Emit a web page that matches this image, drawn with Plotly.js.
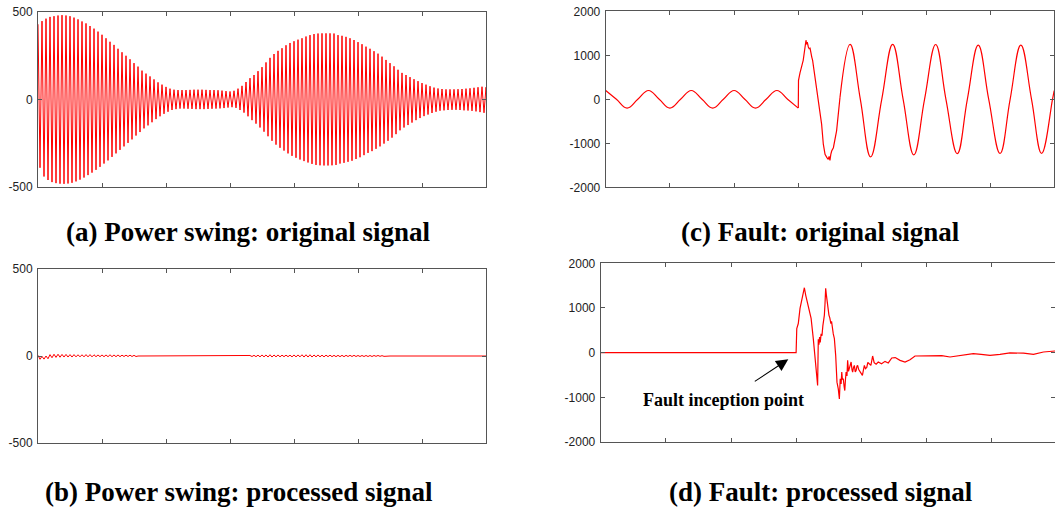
<!DOCTYPE html>
<html>
<head>
<meta charset="utf-8">
<script src="https://cdn.plot.ly/plotly-3.0.1.min.js"></script>
<style>
html,body{margin:0;padding:0;background:#fff;}
#chart{width:1055px;height:508px;}
</style>
</head>
<body>
<div id="chart"></div>
<script>
// ---------- DATA ----------
// (a) Power swing, original signal: positive and negative peak of each oscillation cycle
const swingUpperPeaks = [
  430,448,462,472,476,480,482,480,476,468,
  458,446,435,420,405,388,370,350,330,312,
  290,270,250,230,208,188,165,148,132,115,
  98,85,72,62,56,54,54,54,55,56,
  56,56,55,54,54,53,51,48,46,50,
  62,78,100,122,140,162,185,212,238,260,
  278,293,310,323,333,342,350,360,368,374,
  377,378,378,378,377,368,364,358,350,340,
  328,316,302,290,276,262,245,226,208,190,
  170,152,140,128,116,105,94,85,76,68,
  63,60,58,58,58,59,60,62,64,67,
  70,73,70
];
const swingLowerPeaks = [
  -390,-440,-460,-472,-478,-481,-482,-480,-476,-468,
  -458,-446,-432,-418,-402,-385,-366,-348,-328,-308,
  -288,-268,-248,-228,-206,-186,-165,-148,-130,-112,
  -96,-82,-70,-60,-55,-52,-52,-53,-54,-55,
  -55,-55,-54,-53,-52,-51,-49,-46,-44,-48,
  -60,-75,-96,-118,-138,-160,-184,-210,-236,-258,
  -276,-292,-308,-322,-333,-343,-352,-360,-368,-374,
  -376,-377,-377,-376,-374,-366,-362,-356,-350,-340,
  -330,-318,-305,-295,-282,-268,-252,-236,-218,-198,
  -176,-160,-146,-132,-118,-106,-95,-86,-77,-70,
  -64,-62,-60,-59,-59,-60,-62,-63,-65,-68,
  -72,-76,-80
];
// (b) Power swing, processed signal: peaks of each cycle (same time base)
const procUpperPeaks = [
  4,-2,0,8,10,10,9,9,8,8,
  7,7,8,8,7,6,6,6,7,6,
  6,5,5,5,4,
  0,0,0,0,0,0,0,0,0,0,0,0,0,0,0,0,0,0,0,0,0,0,0,0,0,0,0,0,
  3,4,5,6,6,7,6,6,5,5,
  5,6,6,7,7,7,6,6,5,5,
  5,4,4,4,4,4,4,3,3,3,
  3,3,3,2,
  0,0,0,0,0,0,0,0,0,0,0,0,0,0,0,0,0,0,0,0,0,0,0,0,0,0
];
const procLowerPeaks = [
  -19,-18,-16,-10,-8,-7,-6,-6,-6,-5,
  -5,-5,-5,-5,-4,-4,-4,-4,-4,-4,
  -4,-3,-3,-3,-3,
  0,0,0,0,0,0,0,0,0,0,0,0,0,0,0,0,0,0,0,0,0,0,0,0,0,0,0,0,
  -3,-4,-5,-5,-6,-6,-5,-5,-4,-4,
  -5,-5,-5,-6,-6,-6,-5,-5,-5,-4,
  -4,-4,-4,-4,-3,-3,-3,-3,-3,-3,
  -3,-2,-2,-2,
  0,0,0,0,0,0,0,0,0,0,0,0,0,0,0,0,0,0,0,0,0,0,0,0,0,0
];
const swingCyclesPerUnit = 16;

// (c) Fault, original signal (time in ms)
const preFaultT = [0,5,10,15,20,25,30,35,40,45,50,55,60,65,70,75,80,85,90];
const preFaultV = [200,0,-200,0,200,0,-200,0,200,0,-200,0,200,0,-200,0,200,0,-200];
const transientT = [90,90.1,90.8,91.6,92.0,92.3,92.7,93.1,93.6,93.9,94.2,94.7,95.1,95.5,95.9,96.3,96.7,97.8,99.3,100.9,101.7,102.5,103.3,104.0,104.4,104.8,105.2,105.6,106.4,107.9,109.5];
const transientV = [-200,430,600,810,830,885,1000,1114,1343,1250,1300,1190,1150,1160,1000,960,885,503,46,-565,-1020,-1250,-1320,-1364,-1300,-1390,-1250,-1175,-1100,-716,46];
const postFaultT = [109.5,114.2,119,123.8,129,134.1,139,144,149,154.2,159,164.3,169,174.1,179,184.3,189,194,199,203.7,208.8,209.6];
const postFaultV = [46,1250,0,-1310,0,1250,0,-1265,0,1245,0,-1235,0,1230,0,-1230,0,1230,0,-1230,0,200];

// (d) Fault, processed signal (time in ms)
const procFaultT = [0,89.9,90.2,90.9,91.7,92.5,93.2,93.7,94.3,95.2,95.8,96.8,97.8,98.6,99.4,99.8,
  100.1,100.4,100.7,101.0,101.4,101.8,102.2,102.6,102.9,103.2,103.5,103.8,104.0,104.3,104.5,104.8,105.0,105.4,105.9,106.2,106.6,107.0,107.5,108.1,108.7,109.3,109.8,110.2,110.6,110.9,111.2,111.6,112.0,112.3,112.6,112.9,113.3,113.6,114.0,114.4,114.8,115.2,115.6,115.9,116.3,116.7,117.1,117.5,117.9,118.2,118.7,119.3,119.8,120.4,120.9,121.3,121.8,122.4,122.9,123.4,124.3,125.1,125.8,126.7,127.7,129.2,130.8,132.3,133.9,135.5,137.7,140.0,142.3,144.6,147.7,150.7,153.8,156.9,160.7,165.3,171.4,175.0,179.1,183.7,188.3,194.5,199.1,203.7,209.0];
const procFaultV = [0,0,540,652,990,1177,1327,1453,1290,1102,990,765,315,-135,-510,-735,
  300,180,350,230,420,380,600,700,840,1100,1440,1300,1215,1150,990,1000,840,780,652,700,463,420,315,-60,-660,-810,-1035,-585,-700,-435,-600,-585,-760,-848,-600,-435,-520,-173,-420,-360,-300,-210,-380,-435,-330,-285,-430,-398,-300,-285,-380,-435,-460,-510,-380,-285,-360,-330,-220,-248,-285,-75,-225,-260,-210,-250,-195,-230,-120,-110,-173,-210,-160,-75,-75,-83,-75,-68,-97,-60,-22,-40,-60,-40,-7,-10,-37,15,37];

// ticks and labels
const swingXTicks = [1,2,3,4,5,6];
const faultXTicks = [30,60,90,120,150,180];
const swingYTicks = [-500,0,500];
const swingYLabels = ['-500','0','500'];
const faultYTicks = [-2000,-1000,0,1000,2000];
const faultYLabels = ['-2000','-1000','0','1000','2000'];
const captions = [
  '(a) Power swing: original signal',
  '(b) Power swing: processed signal',
  '(c) Fault: original signal',
  '(d) Fault: processed signal'
];
const faultNote = 'Fault inception point';

// ---------- build traces ----------
function zigzag(up, lo){
  const x=[], y=[];
  for(let k=0;k<up.length;k++){
    x.push(k/swingCyclesPerUnit); y.push(up[k]);
    x.push((k+0.5)/swingCyclesPerUnit); y.push(lo[k]);
  }
  return {x, y};
}
const A = zigzag(swingUpperPeaks, swingLowerPeaks);
const B = zigzag(procUpperPeaks, procLowerPeaks);
const RED = '#ff0000';

const traces = [
  {x:A.x, y:A.y, xaxis:'x', yaxis:'y', mode:'lines', line:{color:RED, width:1}, type:'scatter'},
  {x:B.x, y:B.y, xaxis:'x2', yaxis:'y2', mode:'lines', line:{color:RED, width:1}, type:'scatter'},
  {x:preFaultT, y:preFaultV, xaxis:'x3', yaxis:'y3', mode:'lines', line:{color:RED, width:1.2, shape:'spline', smoothing:1.2}, type:'scatter'},
  {x:transientT, y:transientV, xaxis:'x3', yaxis:'y3', mode:'lines', line:{color:RED, width:1.2}, type:'scatter'},
  {x:postFaultT, y:postFaultV, xaxis:'x3', yaxis:'y3', mode:'lines', line:{color:RED, width:1.2, shape:'spline', smoothing:1.2}, type:'scatter'},
  {x:procFaultT, y:procFaultV, xaxis:'x4', yaxis:'y4', mode:'lines', line:{color:RED, width:1.2}, type:'scatter'}
];

const W=1055, H=508;
const tickFont = {family:'Liberation Sans, Arial, sans-serif', size:12, color:'#222'};
function xax(dom, range, ticks, anchor){
  return {domain:dom, range:range, tickvals:ticks, showticklabels:false, ticks:'inside', ticklen:4,
    tickcolor:'#555', showline:true, linecolor:'#555', linewidth:1, mirror:'ticks',
    showgrid:false, zeroline:false, anchor:anchor, fixedrange:true};
}
function yax(dom, range, ticks, labels, anchor){
  return {domain:dom, range:range, tickvals:ticks, ticktext:labels, ticks:'inside', ticklen:4,
    tickcolor:'#555', showline:true, linecolor:'#555', linewidth:1, mirror:'ticks',
    showgrid:false, zeroline:false, anchor:anchor, tickfont:tickFont, ticklabelstandoff:2, fixedrange:true};
}
const capFont = {family:'Liberation Serif, Times New Roman, serif', size:27, color:'#000'};
const layout = {
  width:W, height:H, margin:{l:0,r:0,t:0,b:0}, showlegend:false,
  paper_bgcolor:'#fff', plot_bgcolor:'#fff',
  xaxis: xax([38/W, 486/W], [0,7], swingXTicks, 'y'),
  yaxis: yax([1-187/H, 1-12/H], [-500,500], swingYTicks, swingYLabels, 'x'),
  xaxis2: xax([38/W, 486/W], [0,7], swingXTicks, 'y2'),
  yaxis2: yax([1-443/H, 1-269/H], [-500,500], swingYTicks, swingYLabels, 'x2'),
  xaxis3: xax([605.7/W, 1054/W], [0,209.5], faultXTicks, 'y3'),
  yaxis3: yax([1-187.3/H, 1-11.3/H], [-2000,2000], faultYTicks, faultYLabels, 'x3'),
  xaxis4: xax([600.7/W, 1], [0,209.0], faultXTicks, 'y4'),
  yaxis4: yax([1-442/H, 1-263.3/H], [-2000,2000], faultYTicks, faultYLabels, 'x4'),
  annotations: [
    {text:'<b>'+captions[0]+'</b>', xref:'paper', yref:'paper', x:247.5/W, y:1-232/H, xanchor:'center', yanchor:'middle', showarrow:false, font:capFont},
    {text:'<b>'+captions[1]+'</b>', xref:'paper', yref:'paper', x:238.5/W, y:1-492/H, xanchor:'center', yanchor:'middle', showarrow:false, font:capFont},
    {text:'<b>'+captions[2]+'</b>', xref:'paper', yref:'paper', x:820.5/W, y:1-232/H, xanchor:'center', yanchor:'middle', showarrow:false, font:capFont},
    {text:'<b>'+captions[3]+'</b>', xref:'paper', yref:'paper', x:820.5/W, y:1-492/H, xanchor:'center', yanchor:'middle', showarrow:false, font:capFont},
    {text:'<b>'+faultNote+'</b>', xref:'paper', yref:'paper', x:723.3/W, y:1-400/H, xanchor:'center', yanchor:'middle', showarrow:false,
      font:{family:'Liberation Serif, Times New Roman, serif', size:18, color:'#000'}},
    {text:'', xref:'x4', yref:'y4', x:86.3, y:-150, ax:-35, ay:23, showarrow:true, arrowhead:2, arrowsize:2.2, arrowwidth:1.1, arrowcolor:'#000', standoff:0}
  ]
};
Plotly.newPlot('chart', traces, layout, {staticPlot:true, displayModeBar:false});
</script>
</body>
</html>
